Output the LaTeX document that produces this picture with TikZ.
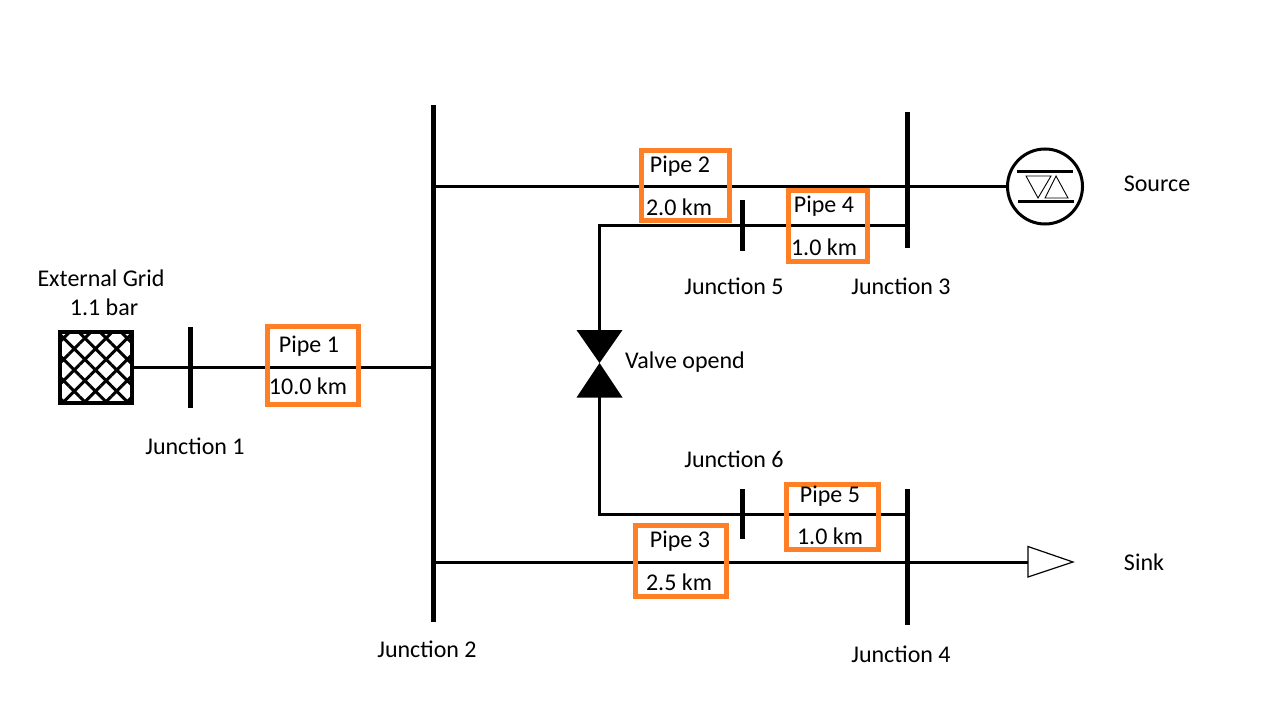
\documentclass[tikz,border=0pt]{standalone}
\usepackage{fontspec}
\setmainfont{Carlito}
\usetikzlibrary{patterns.meta}

\newcommand{\px}{0.75pt}

\tikzset{
  junction/.style={rectangle, draw=none, fill=black, inner sep=0pt, minimum width=5*\px},
  pipe_line/.style={draw=black, line width=3*\px},
  pipe_box/.style={rectangle, draw=pipe_orange, line width=5*\px, inner sep=0pt},
  label_text/.style={inner sep=0pt, font=\fontsize{18}{22}\selectfont},
}
\definecolor{pipe_orange}{RGB}{255,127,39}

\begin{document}
\begin{tikzpicture}[x=\px, y=-\px]

\useasboundingbox (0,0) rectangle (1280,720);

% External grid
\node (external_grid) [rectangle, draw, line width=4*\px, inner sep=0pt, minimum width=72*\px, minimum height=71*\px, pattern={Hatch[angle=45, distance=15*\px, line width=3*\px]}] at (96,367.5) {};
\node (external_grid_name) [label_text] at (101,278) {External Grid};
\node (external_grid_bar) [label_text] at (104,307) {1.1 bar};

% Junctions
\node (junction_1) [junction, minimum height=81*\px] at (190,367.5) {};
\node (junction_2) [junction, minimum height=517*\px] at (433.5,363.5) {};
\node (junction_3) [junction, minimum height=136*\px] at (907,180) {};
\node (junction_4) [junction, minimum height=136*\px] at (907,556.5) {};
\node (junction_5) [junction, minimum height=50*\px] at (742,225.5) {};
\node (junction_6) [junction, minimum height=50*\px] at (742,514) {};

\node (junction_1_name) [label_text] at (195,446) {Junction 1};
\node (junction_2_name) [label_text] at (427,649) {Junction 2};
\node (junction_3_name) [label_text] at (901,286) {Junction 3};
\node (junction_4_name) [label_text] at (901,654) {Junction 4};
\node (junction_5_name) [label_text] at (734,286) {Junction 5};
\node (junction_6_name) [label_text] at (734,459) {Junction 6};

% Source
\node (source) [circle, draw, fill=white, line width=3*\px, inner sep=0pt, minimum size=75*\px] at (1045,186.5) {};
\draw[line width=3*\px] (1017,172) -- (1073,172);
\draw[line width=3*\px] (1018,202) -- (1074,202);
\draw[line width=0.9*\px] (1026,176) -- (1051,176) -- (1038,198) -- cycle;
\draw[line width=0.9*\px] (1045,198) -- (1068,198) -- (1056,176) -- cycle;
\node (source_name) [label_text] at (1157,184) {Source};

% Valve
\coordinate (valve) at (599.5,363);
\coordinate (valve_top) at (599.5,332);
\coordinate (valve_bottom) at (599.5,395);
\fill (valve) -- (576.5,330) -- (622.5,330) -- cycle;
\fill (valve) -- (576.5,397.5) -- (622.5,397.5) -- cycle;
\node (valve_name) [label_text] at (685,362) {Valve opend};

% Sink
\coordinate (sink) at (1028,562.5);
\node (sink_name) [label_text] at (1144,562) {Sink};

% Connections
\draw[pipe_line] (external_grid.east) -- (junction_2.center |- external_grid.east);
\draw[pipe_line] (junction_2.center |- source.west) -- (source.west);
\draw[pipe_line] (junction_2.center |- sink) -- (sink);
\draw[pipe_line] (valve_top) |- (junction_5.center) -- (junction_3.center |- junction_5.center);
\draw[pipe_line] (valve_bottom) |- (junction_6.center) -- (junction_4.center |- junction_6.center);

% Sink triangle
\draw[line width=1.2*\px, fill=white] (sink) -- (1028,546.5) -- (1073,562) -- (1028,577) -- cycle;

% Pipes
\node (pipe_1) [pipe_box, minimum width=91*\px, minimum height=78*\px] at (313,365.5) {};
\node (pipe_1_name) [label_text] at (309,346) {Pipe 1};
\node (pipe_1_length) [label_text] at (308,386) {10.0 km};

\node (pipe_2) [pipe_box, minimum width=88*\px, minimum height=70*\px] at (685,186) {};
\node (pipe_2_name) [label_text] at (680,166) {Pipe 2};
\node (pipe_2_length) [label_text] at (679,207) {2.0 km};

\node (pipe_3) [pipe_box, minimum width=91*\px, minimum height=71*\px] at (680.5,561) {};
\node (pipe_3_name) [label_text] at (680,541) {Pipe 3};
\node (pipe_3_length) [label_text] at (679,582) {2.5 km};

\node (pipe_4) [pipe_box, minimum width=79*\px, minimum height=70*\px] at (827.5,226) {};
\node (pipe_4_name) [label_text] at (824,206) {Pipe 4};
\node (pipe_4_length) [label_text] at (824,247) {1.0 km};

\node (pipe_5) [pipe_box, minimum width=92*\px, minimum height=65*\px] at (832,517) {};
\node (pipe_5_name) [label_text] at (830,496) {Pipe 5};
\node (pipe_5_length) [label_text] at (830,536) {1.0 km};

\end{tikzpicture}
\end{document}
